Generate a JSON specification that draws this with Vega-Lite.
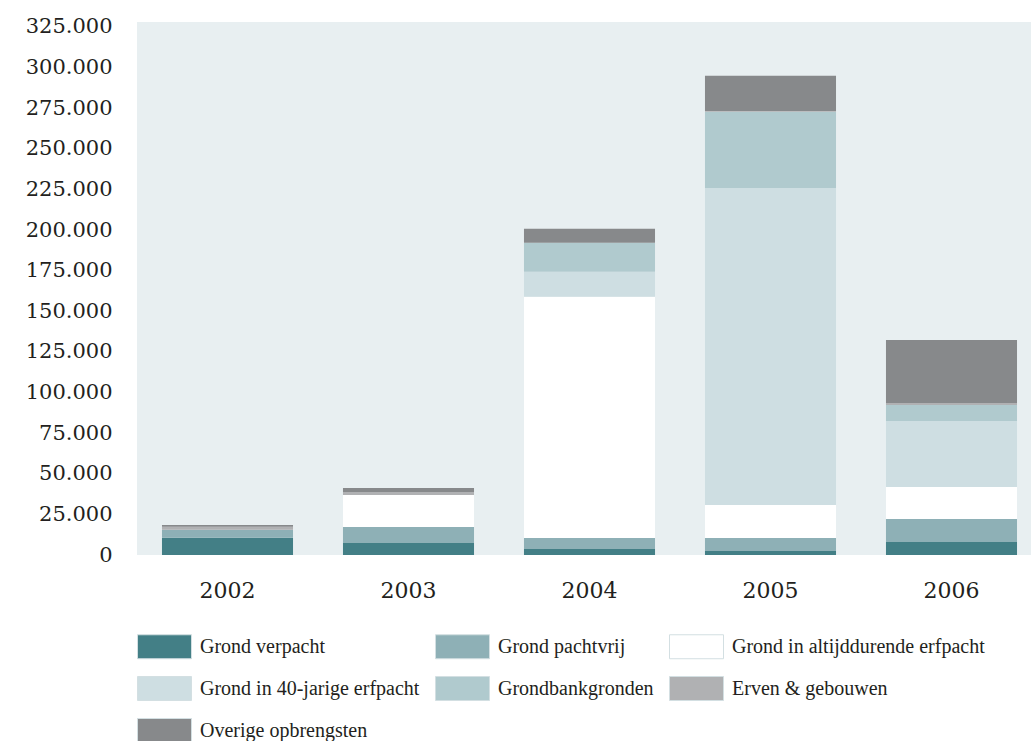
{
  "$schema": "https://vega.github.io/schema/vega-lite/v6.json",
  "width": 905,
  "height": 533,
  "autosize": {"type": "none"},
  "padding": {"left": 137, "top": 22, "right": -11, "bottom": 186},
  "background": "#ffffff",
  "config": {
    "locale": {"number": {"decimal": ",", "thousands": ".", "grouping": [3], "currency": ["€", ""]}},
    "view": {"fill": "#e8eff1", "stroke": null},
    "font": "DejaVu Serif"
  },
  "data": {
    "values": [
      {"year": "2002", "cat": "Grond verpacht", "o": 1, "value": 10650},
      {"year": "2002", "cat": "Grond pachtvrij", "o": 2, "value": 4900},
      {"year": "2002", "cat": "Erven & gebouwen", "o": 6, "value": 1850},
      {"year": "2002", "cat": "Overige opbrengsten", "o": 7, "value": 1000},
      {"year": "2003", "cat": "Grond verpacht", "o": 1, "value": 7400},
      {"year": "2003", "cat": "Grond pachtvrij", "o": 2, "value": 9850},
      {"year": "2003", "cat": "Grond in altijddurende erfpacht", "o": 3, "value": 19700},
      {"year": "2003", "cat": "Erven & gebouwen", "o": 6, "value": 1850},
      {"year": "2003", "cat": "Overige opbrengsten", "o": 7, "value": 2450},
      {"year": "2004", "cat": "Grond verpacht", "o": 1, "value": 3700},
      {"year": "2004", "cat": "Grond pachtvrij", "o": 2, "value": 6800},
      {"year": "2004", "cat": "Grond in altijddurende erfpacht", "o": 3, "value": 148400},
      {"year": "2004", "cat": "Grond in 40-jarige erfpacht", "o": 4, "value": 15400},
      {"year": "2004", "cat": "Grondbankgronden", "o": 5, "value": 17900},
      {"year": "2004", "cat": "Overige opbrengsten", "o": 7, "value": 8600},
      {"year": "2005", "cat": "Grond verpacht", "o": 1, "value": 2500},
      {"year": "2005", "cat": "Grond pachtvrij", "o": 2, "value": 8000},
      {"year": "2005", "cat": "Grond in altijddurende erfpacht", "o": 3, "value": 20300},
      {"year": "2005", "cat": "Grond in 40-jarige erfpacht", "o": 4, "value": 195100},
      {"year": "2005", "cat": "Grondbankgronden", "o": 5, "value": 46800},
      {"year": "2005", "cat": "Erven & gebouwen", "o": 6, "value": 600},
      {"year": "2005", "cat": "Overige opbrengsten", "o": 7, "value": 21550},
      {"year": "2006", "cat": "Grond verpacht", "o": 1, "value": 8000},
      {"year": "2006", "cat": "Grond pachtvrij", "o": 2, "value": 14200},
      {"year": "2006", "cat": "Grond in altijddurende erfpacht", "o": 3, "value": 19700},
      {"year": "2006", "cat": "Grond in 40-jarige erfpacht", "o": 4, "value": 40600},
      {"year": "2006", "cat": "Grondbankgronden", "o": 5, "value": 9850},
      {"year": "2006", "cat": "Erven & gebouwen", "o": 6, "value": 1200},
      {"year": "2006", "cat": "Overige opbrengsten", "o": 7, "value": 38800}
    ]
  },
  "mark": {"type": "bar"},
  "encoding": {
    "x": {
      "field": "year",
      "type": "nominal",
      "scale": {"paddingInner": 0.276, "paddingOuter": 0.138},
      "axis": {
        "title": null,
        "labelAngle": 0,
        "domain": false,
        "ticks": false,
        "labelFont": "DejaVu Serif",
        "labelFontSize": 22,
        "labelColor": "#231f20",
        "labelBaseline": "middle",
        "labelPadding": 35
      }
    },
    "y": {
      "field": "value",
      "type": "quantitative",
      "stack": "zero",
      "scale": {"domain": [0, 328000], "nice": false},
      "axis": {
        "title": null,
        "values": [0, 25000, 50000, 75000, 100000, 125000, 150000, 175000, 200000, 225000, 250000, 275000, 300000, 325000],
        "format": ",d",
        "grid": false,
        "domain": false,
        "ticks": false,
        "labelFont": "DejaVu Serif",
        "labelFontSize": 21,
        "labelColor": "#231f20",
        "labelPadding": 25
      }
    },
    "color": {
      "field": "cat",
      "type": "nominal",
      "scale": {
        "domain": ["Grond verpacht", "Grond pachtvrij", "Grond in altijddurende erfpacht", "Grond in 40-jarige erfpacht", "Grondbankgronden", "Erven & gebouwen", "Overige opbrengsten"],
        "range": ["#437f86", "#8eb0b6", "#ffffff", "#cedee2", "#b0cace", "#b0b1b3", "#87898b"]
      },
      "legend": {
        "title": null,
        "orient": "none",
        "legendX": 0,
        "legendY": 597,
        "direction": "horizontal",
        "columns": 3,
        "padding": 0,
        "columnPadding": 13,
        "rowPadding": 0,
        "symbolType": "M-1,-0.444H1V0.444H-1Z",
        "symbolSize": 2916,
        "symbolOpacity": 1,
        "symbolStrokeColor": "#d3dfe2",
        "symbolStrokeWidth": 1,
        "labelOffset": 8,
        "labelFont": "Liberation Serif",
        "labelFontSize": 20,
        "labelColor": "#231f20",
        "labelLimit": 400
      }
    },
    "order": {"field": "o", "type": "quantitative"}
  }
}
